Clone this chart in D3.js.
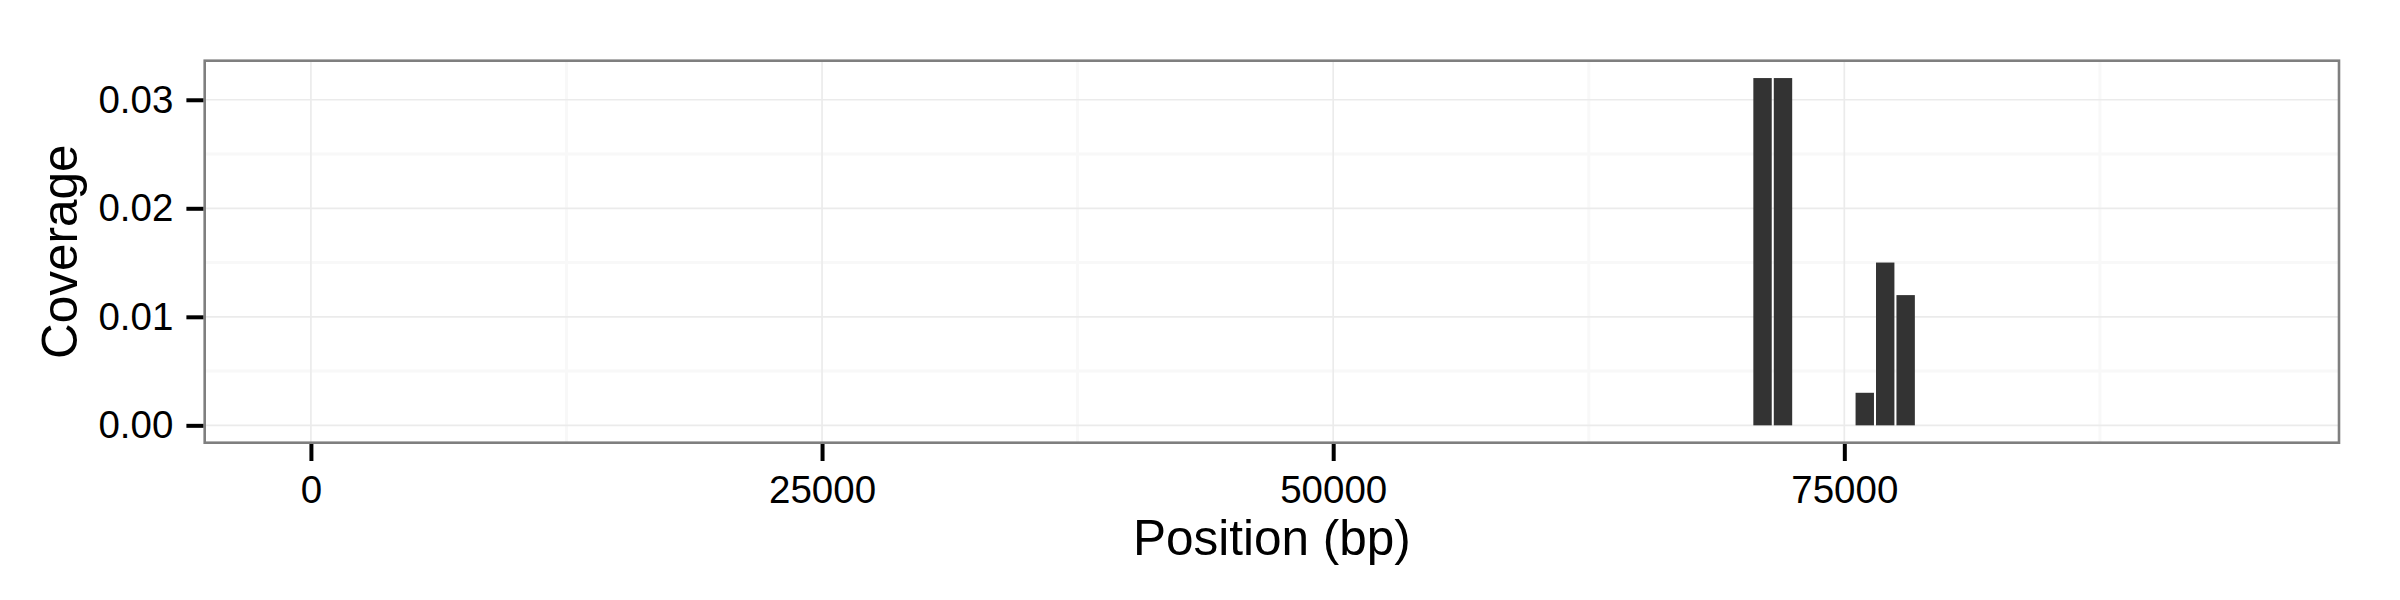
<!DOCTYPE html>
<html>
<head>
<meta charset="utf-8">
<script src="https://cdn.jsdelivr.net/npm/d3@7"></script>
<style>
  html, body { margin: 0; padding: 0; background: #fff; }
  text { font-family: "Liberation Sans", Arial, Helvetica, sans-serif; fill: #000; }
</style>
</head>
<body>
<svg id="chart" width="2400" height="600"></svg>
<script>
// coverage per 1000 bp bin (only non-empty bins, the rest are 0)
const binSize = 1000;
const firstBin = 0;
const lastBin = 94000;
const positions = [71000, 72000, 76000, 77000, 78000];
const coverage = [0.032, 0.032, 0.003, 0.015, 0.012];

const xTicks = [0, 25000, 50000, 75000];
const xMinor = [12500, 37500, 62500, 87500];
const yTicks = [0, 0.01, 0.02, 0.03];
const yMinor = [0.005, 0.015, 0.025];

const xTitle = "Position (bp)";
const yTitle = "Coverage";

const width = 2400, height = 600;
const panel = {left: 204.7, right: 2339, top: 60.7, bottom: 442.7};
const barFrac = 0.9; // ggplot default bar width

// ggplot-ish 5% expansion
const x0 = firstBin - binSize * barFrac / 2, x1 = lastBin + binSize * barFrac / 2;
const xPad = (x1 - x0) * 0.05;
const yMax = d3.max(coverage), yPad = yMax * 0.05;

const x = d3.scaleLinear().domain([x0 - xPad, x1 + xPad]).range([panel.left, panel.right]);
const y = d3.scaleLinear().domain([-yPad, yMax + yPad]).range([panel.bottom, panel.top]);

const svg = d3.select("#chart");
const data = positions.map((p, i) => ({pos: p, value: coverage[i]}));

svg.append("rect")
  .attr("x", panel.left).attr("y", panel.top)
  .attr("width", panel.right - panel.left).attr("height", panel.bottom - panel.top)
  .attr("fill", "#fff");

// minor grid
svg.append("g").selectAll("line").data(xMinor).enter().append("line")
  .attr("x1", d => x(d)).attr("x2", d => x(d))
  .attr("y1", panel.top).attr("y2", panel.bottom)
  .attr("stroke", "#f8f8f8").attr("stroke-width", 3);
svg.append("g").selectAll("line").data(yMinor).enter().append("line")
  .attr("y1", d => y(d)).attr("y2", d => y(d))
  .attr("x1", panel.left).attr("x2", panel.right)
  .attr("stroke", "#f8f8f8").attr("stroke-width", 3);

// major grid
svg.append("g").selectAll("line").data(xTicks).enter().append("line")
  .attr("x1", d => x(d)).attr("x2", d => x(d))
  .attr("y1", panel.top).attr("y2", panel.bottom)
  .attr("stroke", "#ebebeb").attr("stroke-width", 1.7);
svg.append("g").selectAll("line").data(yTicks).enter().append("line")
  .attr("y1", d => y(d)).attr("y2", d => y(d))
  .attr("x1", panel.left).attr("x2", panel.right)
  .attr("stroke", "#ebebeb").attr("stroke-width", 1.7);

// bars
const bw = x(binSize * barFrac) - x(0);
svg.append("g").selectAll("rect").data(data).enter().append("rect")
  .attr("x", d => x(d.pos) - bw / 2)
  .attr("width", bw)
  .attr("y", d => y(d.value))
  .attr("height", d => y(0) - y(d.value))
  .attr("fill", "#333333");

// panel border
svg.append("rect")
  .attr("x", panel.left).attr("y", panel.top)
  .attr("width", panel.right - panel.left).attr("height", panel.bottom - panel.top)
  .attr("fill", "none").attr("stroke", "#7f7f7f").attr("stroke-width", 2.6);

// x axis
const xAxis = svg.append("g").attr("transform", `translate(0,${panel.bottom + 1.3})`)
  .call(d3.axisBottom(x).tickValues(xTicks).tickFormat(d3.format("d")).tickSize(17).tickPadding(15));
xAxis.select(".domain").remove();
xAxis.selectAll(".tick line").attr("stroke", "#000").attr("stroke-width", 4);
xAxis.selectAll(".tick text").attr("font-size", "38.5px").attr("fill", "#000")
  .attr("font-family", "Liberation Sans, Arial, sans-serif");

// y axis
const yAxis = svg.append("g").attr("transform", `translate(${panel.left - 1.3},0)`)
  .call(d3.axisLeft(y).tickValues(yTicks).tickFormat(d3.format(".2f")).tickSize(17).tickPadding(13));
yAxis.select(".domain").remove();
yAxis.selectAll(".tick line").attr("stroke", "#000").attr("stroke-width", 4);
yAxis.selectAll(".tick text").attr("font-size", "38.5px").attr("fill", "#000")
  .attr("font-family", "Liberation Sans, Arial, sans-serif");

// titles
svg.append("text")
  .attr("x", (panel.left + panel.right) / 2).attr("y", 555)
  .attr("text-anchor", "middle").attr("font-size", "49.5px")
  .text(xTitle);
svg.append("text")
  .attr("transform", `translate(77,${(panel.top + panel.bottom) / 2}) rotate(-90)`)
  .attr("text-anchor", "middle").attr("font-size", "49.5px")
  .text(yTitle);
</script>
</body>
</html>
